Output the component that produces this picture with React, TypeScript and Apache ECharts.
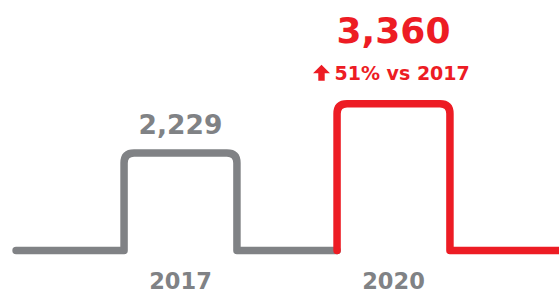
import React, { useEffect, useRef } from "react";
import * as echarts from "echarts";

const categories = ["2017", "2020"];
const values = [2229, 3360];
const seriesColors = ["#808285", "#ED1C24"];
const yMax = 5000;

const FONT = '"DejaVu Sans", "Liberation Sans", sans-serif';

export default function App() {
  const ref = useRef<HTMLDivElement>(null);
  useEffect(() => {
    if (!ref.current) return;
    const chart = echarts.init(ref.current, null, { renderer: "svg" });
    const last = values.length - 1;
    const pct = Math.round((values[last] / values[0] - 1) * 100);
    const changeText = `${pct}% vs ${categories[0]}`;

    const renderItem = (params: any, api: any) => {
      const i = api.value(0);
      const v = api.value(1);
      const [cx, ty] = api.coord([i, v]);
      const by = api.coord([i, 0])[1];
      const band = api.size([1, 0])[0];
      const w = band * 0.265;
      const r = 10;
      const bl = cx - w;
      const br = cx + w;
      const sx = i === 0 ? cx - band * 0.772 : bl;
      const ex = i === last ? api.getWidth() + 20 : cx + band - w;
      const color = seriesColors[i];
      const d =
        `M ${sx} ${by} L ${bl} ${by} L ${bl} ${ty + r} Q ${bl} ${ty} ${bl + r} ${ty} ` +
        `L ${br - r} ${ty} Q ${br} ${ty} ${br} ${ty + r} L ${br} ${by} L ${ex} ${by}`;
      const children: any[] = [
        {
          type: "path",
          shape: { pathData: d, x: sx, y: ty, width: ex - sx, height: by - ty, layout: "cover" },
          style: { fill: "none", stroke: color, lineWidth: 7.5, lineCap: "round", lineJoin: "round" },
        },
      ];
      if (i === last) {
        children.push({
          type: "text",
          x: cx,
          y: ty - 73,
          style: {
            text: values[i].toLocaleString("en-US"),
            fill: color,
            font: `bold 36px ${FONT}`,
            align: "center",
            verticalAlign: "middle",
          },
        });
        const ax = cx - 72;
        const at = ty - 39;
        children.push({
          type: "polygon",
          shape: {
            points: [
              [ax, at],
              [ax + 8.5, at + 8.5],
              [ax + 3.2, at + 8.5],
              [ax + 3.2, at + 16],
              [ax - 3.2, at + 16],
              [ax - 3.2, at + 8.5],
              [ax - 8.5, at + 8.5],
            ],
          },
          style: { fill: color },
        });
        children.push({
          type: "text",
          x: cx - 59,
          y: ty - 31,
          style: {
            text: changeText,
            fill: color,
            font: `bold 19px ${FONT}`,
            align: "left",
            verticalAlign: "middle",
          },
        });
      } else {
        children.push({
          type: "text",
          x: cx,
          y: ty - 29,
          style: {
            text: values[i].toLocaleString("en-US"),
            fill: color,
            font: `bold 26.5px ${FONT}`,
            align: "center",
            verticalAlign: "middle",
          },
        });
      }
      return { type: "group", children };
    };

    chart.setOption({
      animation: false,
      grid: { left: 74, right: 59, top: 32, bottom: 42.5 },
      xAxis: {
        type: "category",
        data: categories,
        axisLine: { show: false },
        axisTick: { show: false },
        splitLine: { show: false },
        axisLabel: {
          color: "#808285",
          fontFamily: FONT,
          fontWeight: "bold",
          fontSize: 22.5,
          margin: 19,
        },
      },
      yAxis: { type: "value", min: 0, max: yMax, show: false },
      series: [
        {
          type: "custom",
          clip: false,
          renderItem,
          encode: { x: 0, y: 1 },
          data: values.map((v, i) => [i, v]),
        },
      ],
    });
    return () => chart.dispose();
  }, []);
  return (
    <div
      ref={ref}
      style={{ position: "fixed", left: 0, top: 0, width: 559, height: 293, background: "#fff" }}
    />
  );
}
